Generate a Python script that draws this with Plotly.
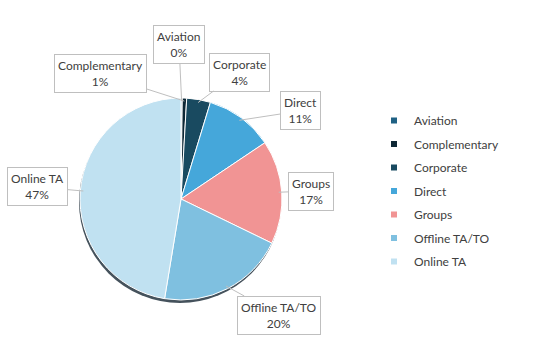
import math
import plotly.graph_objects as go

# Share of bookings by channel
channels = ["Aviation", "Complementary", "Corporate", "Direct", "Groups", "Offline TA/TO", "Online TA"]
shares = [0.2, 0.7, 3.8, 10.9, 16.6, 20.4, 47.4]
colors = ["#1f6184", "#0e2735", "#194a60", "#45a7da", "#f19494", "#7fc0e0", "#c0e1f1"]

W, H = 550, 344
CX, CY, R = 181, 199, 101  # pie centre and radius in pixels (y from top)

# where each callout box sits (pixel centre)
label_pos = {
    "Aviation": (179, 44),
    "Complementary": (100, 74),
    "Corporate": (239, 72),
    "Direct": (300, 111),
    "Groups": (311, 191),
    "Offline TA/TO": (279, 315),
    "Online TA": (37, 187),
}

FONT = dict(family="Lato", size=12, color="#404040")

fig = go.Figure()

# soft drop shadow under the pie
fig.add_trace(go.Pie(
    values=[1], labels=["shadow"], marker=dict(colors=["#45525c"]),
    domain=dict(x=[(CX - R - 1) / W, (CX + R - 1) / W],
                y=[(H - CY - R - 3) / H, (H - CY + R - 3) / H]),
    textinfo="none", hoverinfo="skip", showlegend=False, sort=False,
))

fig.add_trace(go.Pie(
    labels=channels, values=shares, sort=False, direction="clockwise", rotation=0,
    marker=dict(colors=colors, line=dict(color="white", width=1)),
    domain=dict(x=[(CX - R) / W, (CX + R) / W], y=[(H - CY - R) / H, (H - CY + R) / H]),
    textinfo="none", showlegend=False,
))

# callout labels with leader lines to the middle of each slice
total = sum(shares)
cum = 0.0
for name, v in zip(channels, shares):
    mid = (cum + v / 2) / total * 2 * math.pi
    cum += v
    tx = CX + R * 0.97 * math.sin(mid)
    ty = CY - R * 0.97 * math.cos(mid)
    bx, by = label_pos[name]
    pct = round(v / total * 100)
    fig.add_annotation(
        x=tx / W, y=(H - ty) / H, xref="paper", yref="paper",
        ax=bx - tx, ay=by - ty, axref="pixel", ayref="pixel",
        text=f"{name}<br>{pct}%", showarrow=True, arrowhead=0, arrowwidth=1,
        arrowcolor="#bfbfbf", bordercolor="#bfbfbf", borderwidth=1, borderpad=3,
        bgcolor="white", font=FONT,
    )

# legend entries
for name, c in zip(channels, colors):
    fig.add_trace(go.Scatter(
        x=[None], y=[None], mode="markers", name=name, legendgroup=name,
        marker=dict(symbol="square", size=6, color=c),
    ))

fig.update_layout(
    width=W, height=H, margin=dict(l=0, r=0, t=0, b=0),
    paper_bgcolor="white", plot_bgcolor="white",
    xaxis=dict(visible=False), yaxis=dict(visible=False),
    legend=dict(x=374 / W, y=1 - 106 / H, xanchor="left", yanchor="top",
                font=FONT, tracegroupgap=4.5, itemwidth=30,
                bgcolor="rgba(0,0,0,0)"),
)

fig.write_html("out.html")
